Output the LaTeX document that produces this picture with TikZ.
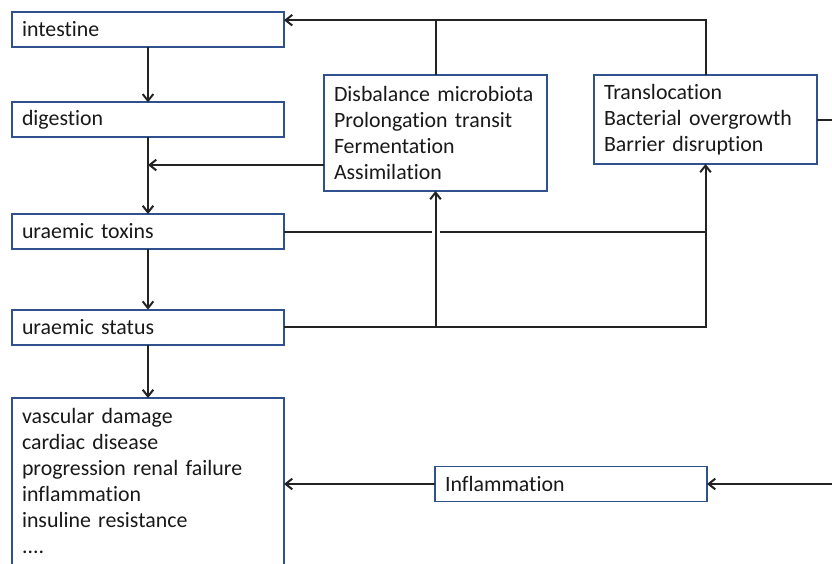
\documentclass[tikz,border=0pt]{standalone}
\usepackage{fontspec}
\setmainfont{Carlito}[Ligatures=NoCommon]
\usetikzlibrary{positioning, arrows.meta}
\definecolor{boxblue}{RGB}{47,82,143}
\definecolor{linegray}{RGB}{35,35,35}

\begin{document}
\begin{tikzpicture}[x=0.75pt, y=-0.75pt,
  box/.style={draw=boxblue, line width=1.4pt, outer sep=0pt, align=left, inner xsep=7.5pt, inner ysep=0pt,
    font=\fontsize{16.4}{19.5}\selectfont, text=black!90},
  stage/.style={box, text width=189pt, minimum height=26.25pt},
  cause/.style={box, text width=152.25pt},
  link/.style={draw=linegray, line width=1.5pt},
  arr/.style={link, -{Straight Barb[length=5pt,width=8pt]}}]
\clip (0,0) rectangle (832,564);

\node (intestine) [stage, anchor=north west] at (12,12) {intestine};
\node (digestion) [stage, below=41.5pt of intestine] {digestion};
\node (toxins) [stage, below=57.5pt of digestion] {uraemic toxins};
\node (status) [stage, below=45.5pt of toxins] {uraemic status};
\node (effects) [stage, inner ysep=7.5pt, text depth=112pt, below=40pt of status] {vascular damage\\cardiac disease\\progression renal failure\\inflammation\\insuline resistance\\....};

\node (disb) [cause, minimum height=87pt, anchor=north west] at (324,75) {Disbalance microbiota\\Prolongation transit\\Fermentation\\Assimilation};
\node (transl) [cause, minimum height=66.75pt, right=35.25pt of disb.north east, anchor=north west] {Translocation\\Bacterial overgrowth\\Barrier disruption};
\node (inflam) [stage, anchor=west] at (435,484) {Inflammation};

\draw[arr] (intestine) -- (digestion);
\draw[arr] (digestion) -- (toxins);
\draw[arr] (toxins) -- (status);
\draw[arr] (status) -- (effects);

\coordinate (itop) at ([yshift=7pt]intestine.east);
\draw[arr] (transl.north) |- (itop);
\draw[link] (disb.north) -- (disb.north |- itop);
\coordinate (djoin) at ([yshift=-24pt]disb.west);
\draw[arr] (djoin) -- (djoin -| digestion.south);

\draw[arr] (status.east) -| (transl.south);
\draw[arr] (status.east -| disb.south) -- (disb.south);
\coordinate (hop) at (toxins.east -| disb.south);
\draw[link] (toxins.east) -- ([xshift=-3pt]hop);
\draw[link] ([xshift=3pt]hop) -- (toxins.east -| transl.south);

\draw[arr] (transl.east) -- ++(22pt,0) |- (inflam.east);
\draw[arr] (inflam.west) -- (inflam.west -| effects.east);
\end{tikzpicture}
\end{document}
